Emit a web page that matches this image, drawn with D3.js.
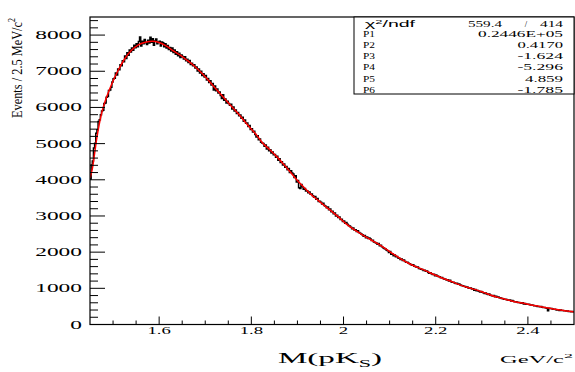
<!DOCTYPE html>
<html>
<head>
<meta charset="utf-8">
<script src="https://cdn.jsdelivr.net/npm/d3@7"></script>
<style>
html, body { margin: 0; padding: 0; background: #fff; }
svg { display: block; }
</style>
</head>
<body>
<svg id="chart"></svg>
<script>
// histogramme : 2.5 MeV par bin, a partir de 1.45 GeV
const binLow = 1.45;
const binWidth = 0.0025;
const counts = [
  4020, 4410, 4520, 4880, 5010, 5290, 5380, 5610, 5660, 5800,
  5900, 5920, 6110, 6120, 6280, 6300, 6470, 6480, 6560, 6700,
  6790, 6810, 6950, 6900, 7060, 7040, 7180, 7150, 7290, 7260,
  7420, 7350, 7510, 7440, 7590, 7530, 7640, 7580, 7720, 7650,
  7760, 7680, 7820, 7950, 7700, 7830, 7760, 7880, 7790, 7740,
  7860, 7780, 7940, 7800, 7900, 7720, 7840, 7890, 7760, 7810,
  7830, 7700, 7810, 7790, 7680, 7760, 7640, 7710, 7600, 7660,
  7560, 7640, 7520, 7590, 7470, 7540, 7430, 7500, 7380, 7450,
  7410, 7340, 7400, 7290, 7330, 7240, 7300, 7190, 7220, 7150,
  7180, 7090, 7120, 7010, 7060, 6950, 7000, 6880, 6930, 6840,
  6880, 6760, 6800, 6690, 6740, 6620, 6660, 6480, 6590, 6460,
  6510, 6400, 6430, 6330, 6250, 6350, 6200, 6230, 6120, 6170,
  6110, 6060, 6090, 5960, 6010, 5900, 5930, 5830, 5860, 5770,
  5790, 5700, 5730, 5620, 5650, 5560, 5570, 5470, 5500, 5390,
  5410, 5320, 5340, 5250, 5180, 5220, 5110, 5130, 5040, 5020,
  5000, 4930, 4960, 4850, 4900, 4800, 4830, 4740, 4770, 4690,
  4700, 4620, 4650, 4540, 4580, 4480, 4500, 4410, 4440, 4350,
  4370, 4280, 4310, 4200, 4250, 4190, 4160, 4060, 4110, 3940,
  3980, 3780, 3760, 3870, 3810, 3740, 3760, 3690, 3700, 3640,
  3660, 3600, 3610, 3560, 3520, 3540, 3460, 3480, 3400, 3410,
  3380, 3330, 3350, 3290, 3270, 3230, 3250, 3170, 3190, 3120,
  3130, 3060, 3080, 3000, 3020, 2960, 2970, 2900, 2910, 2850,
  2860, 2800, 2820, 2770, 2740, 2720, 2690, 2650, 2670, 2610,
  2620, 2570, 2590, 2540, 2520, 2500, 2480, 2440, 2460, 2400,
  2420, 2380, 2390, 2360, 2320, 2330, 2280, 2270, 2250, 2220,
  2240, 2180, 2190, 2150, 2120, 2100, 2090, 2050, 2040, 1990,
  2020, 1940, 1950, 1900, 1920, 1870, 1880, 1840, 1830, 1800,
  1810, 1770, 1780, 1740, 1720, 1720, 1690, 1680, 1660, 1640,
  1650, 1610, 1600, 1580, 1590, 1550, 1540, 1530, 1520, 1490,
  1500, 1470, 1480, 1440, 1420, 1430, 1400, 1380, 1390, 1350,
  1370, 1340, 1330, 1320, 1290, 1300, 1270, 1260, 1250, 1230,
  1240, 1200, 1220, 1180, 1170, 1170, 1150, 1130, 1140, 1110,
  1120, 1090, 1080, 1070, 1060, 1050, 1030, 1040, 1010, 1000,
  1010,  980,  990,  950,  970,  930,  940,  920,  900,  910,
   890,  880,  860,  870,  840,  830,  840,  810,  800,  790,
   800,  770,  780,  750,  760,  740,  730,  720,  710,  700,
   700,  690,  680,  670,  680,  650,  660,  640,  630,  630,
   620,  610,  610,  600,  590,  600,  570,  580,  560,  560,
   560,  550,  540,  540,  530,  520,  520,  510,  500,  500,
   490,  500,  480,  470,  470,  460,  450,  380,  450,  440,
   440,  430,  420,  420,  410,  400,  410,  390,  400,  390,
   390,  380,  380,  370,  370,  360,  360,  350,  360,  350
];

// courbe d'ajustement
const fitMass = [1.450, 1.455, 1.460, 1.465, 1.470, 1.475, 1.4825, 1.490, 1.500, 1.510,
  1.525, 1.540, 1.555, 1.570, 1.585, 1.600, 1.615, 1.630, 1.645, 1.660,
  1.675, 1.690, 1.705, 1.720, 1.735, 1.750, 1.765, 1.780, 1.795, 1.810,
  1.825, 1.840, 1.855, 1.870, 1.885, 1.900, 1.915, 1.930, 1.945, 1.960,
  1.975, 1.990, 2.005, 2.020, 2.035, 2.050, 2.065, 2.080, 2.095, 2.110,
  2.125, 2.140, 2.155, 2.170, 2.185, 2.200, 2.215, 2.230, 2.245, 2.260,
  2.275, 2.290, 2.305, 2.320, 2.335, 2.350, 2.365, 2.380, 2.395, 2.410,
  2.425, 2.440, 2.455, 2.470, 2.485, 2.500];
const fitValue = [4050, 4300, 4730, 5170, 5530, 5830, 6160, 6420, 6730, 7000,
  7340, 7580, 7730, 7800, 7830, 7795, 7700, 7570, 7450, 7310,
  7160, 6980, 6780, 6560, 6345, 6130, 5920, 5700, 5470, 5260,
  5010, 4830, 4640, 4430, 4210, 3980, 3780, 3590, 3430, 3270,
  3120, 2960, 2790, 2650, 2525, 2410, 2300, 2190, 2060, 1930,
  1810, 1700, 1610, 1530, 1445, 1360, 1280, 1210, 1130, 1060,
  1000, 950, 880, 810, 750, 700, 650, 610, 575, 535,
  500, 460, 430, 400, 375, 350];

const xTicks = [1.6, 1.8, 2, 2.2, 2.4];
const yTicks = [0, 1000, 2000, 3000, 4000, 5000, 6000, 7000, 8000];

const statNames = ['P1', 'P2', 'P3', 'P4', 'P5', 'P6'];
const statValues = ['0.2446E+05', '0.4170', '-1.624', '-5.296', '4.859', '-1.785'];
const chi2 = '559.4';
const ndf = '414';

const width = 575;
const height = 372;
const frameL = 90, frameR = 574, frameT = 17, frameB = 324.5;

const svg = d3.select('#chart')
    .attr('width', width)
    .attr('height', height);

const x = d3.scaleLinear().domain([1.45, 2.5]).range([frameL, frameR]);
const y = d3.scaleLinear().domain([0, 8500]).range([frameB, frameT]);

const serif = '"Liberation Serif", "Times New Roman", serif';

svg.append('clipPath').attr('id', 'frame')
  .append('rect')
    .attr('x', frameL).attr('y', frameT)
    .attr('width', frameR - frameL).attr('height', frameB - frameT);

// histogramme en escalier
const steps = counts.map((v, i) => ({ m: binLow + i * binWidth, v: v }));
steps.push({ m: binLow + counts.length * binWidth, v: counts[counts.length - 1] });

svg.append('path')
    .datum(steps)
    .attr('clip-path', 'url(#frame)')
    .attr('fill', 'none')
    .attr('stroke', '#000')
    .attr('stroke-width', 1.5)
    .attr('d', d3.line().x(d => x(d.m)).y(d => y(d.v)).curve(d3.curveStepAfter));

// ajustement
svg.append('path')
    .datum(fitMass.map((m, i) => [m, fitValue[i]]))
    .attr('clip-path', 'url(#frame)')
    .attr('fill', 'none')
    .attr('stroke', '#ff0000')
    .attr('stroke-width', 1.5)
    .attr('d', d3.line().x(d => x(d[0])).y(d => y(d[1])).curve(d3.curveMonotoneX));

// graduations
const yMinor = d3.range(0, 8500, 200);
svg.append('g').selectAll('line')
  .data(yMinor)
  .enter().append('line')
    .attr('x1', frameL)
    .attr('x2', d => frameL + (d % 1000 === 0 ? 15 : 8))
    .attr('y1', d => y(d)).attr('y2', d => y(d))
    .attr('stroke', '#000').attr('stroke-width', 1);

const xMinor = d3.range(1, 21);
svg.append('g').selectAll('line')
  .data(xMinor)
  .enter().append('line')
    .attr('x1', i => x(1.45 + i * 0.05)).attr('x2', i => x(1.45 + i * 0.05))
    .attr('y1', frameB)
    .attr('y2', i => frameB - ((i - 3) % 4 === 0 ? 8 : 4))
    .attr('stroke', '#000').attr('stroke-width', 1);

// cadre
svg.append('rect')
    .attr('x', frameL).attr('y', frameT)
    .attr('width', frameR - frameL).attr('height', frameB - frameT)
    .attr('fill', 'none').attr('stroke', '#000').attr('stroke-width', 1.2);

// etiquettes des axes
svg.append('g').selectAll('text')
  .data(yTicks)
  .enter().append('text')
    .attr('transform', d => `translate(82,${y(d) + 4}) scale(1.95,1)`)
    .attr('text-anchor', 'end')
    .attr('font-family', serif)
    .attr('font-size', 12)
    .text(d => d);

svg.append('g').selectAll('text')
  .data(xTicks)
  .enter().append('text')
    .attr('transform', d => `translate(${x(d)},334) scale(1.7,1)`)
    .attr('text-anchor', 'middle')
    .attr('font-family', serif)
    .attr('font-size', 11)
    .text(d => d);

// titres
const xt = svg.append('text')
    .attr('x', 278).attr('y', 363)
    .attr('font-family', serif).attr('font-size', 15)
    .attr('textLength', 104).attr('lengthAdjust', 'spacingAndGlyphs');
xt.append('tspan').text('M(pK');
xt.append('tspan').attr('font-size', 10).attr('dy', 4).text('S');
xt.append('tspan').attr('dy', -4).text(')');

const unit = svg.append('text')
    .attr('x', 500).attr('y', 363)
    .attr('font-family', serif).attr('font-size', 9.5)
    .attr('textLength', 73).attr('lengthAdjust', 'spacingAndGlyphs');
unit.append('tspan').text('GeV/c');
unit.append('tspan').attr('font-size', 7).attr('dy', -5).text('2');

const yt = svg.append('text')
    .attr('transform', 'translate(22,118) rotate(-90)')
    .attr('font-family', serif).attr('font-size', 15.5)
    .attr('textLength', 100).attr('lengthAdjust', 'spacingAndGlyphs');
yt.append('tspan').text('Events / 2.5 MeV/c');
yt.append('tspan').attr('font-size', 10).attr('dy', -7).text('2');

// boite de statistiques
const stats = svg.append('g');
stats.append('rect')
    .attr('x', 354).attr('y', frameT)
    .attr('width', frameR - 354).attr('height', 77)
    .attr('fill', '#fff').attr('stroke', '#000').attr('stroke-width', 1);

const chiLabel = stats.append('text')
    .attr('x', 365).attr('y', 27)
    .attr('font-family', '"Liberation Sans", Arial, sans-serif').attr('font-size', 9)
    .attr('textLength', 50).attr('lengthAdjust', 'spacingAndGlyphs');
chiLabel.append('tspan').text('\u03c7');
chiLabel.append('tspan').attr('font-size', 6).attr('dy', -3).text('2');
chiLabel.append('tspan').attr('dy', 3).text('/ndf');

stats.append('text')
    .attr('x', 502).attr('y', 27).attr('text-anchor', 'end')
    .attr('font-family', serif).attr('font-size', 8.5)
    .attr('textLength', 34).attr('lengthAdjust', 'spacingAndGlyphs')
    .text(chi2);
stats.append('text')
    .attr('x', 526).attr('y', 27).attr('text-anchor', 'middle')
    .attr('font-family', serif).attr('font-size', 8.5)
    .text('/');
stats.append('text')
    .attr('x', 563).attr('y', 27).attr('text-anchor', 'end')
    .attr('font-family', serif).attr('font-size', 8.5)
    .attr('textLength', 23).attr('lengthAdjust', 'spacingAndGlyphs')
    .text(ndf);

const rowY = [36.5, 47.5, 58.5, 70, 81.5, 92.5];
stats.selectAll('text.name')
  .data(statNames)
  .enter().append('text')
    .attr('class', 'name')
    .attr('x', 363).attr('y', (d, i) => rowY[i])
    .attr('font-family', serif).attr('font-size', 8.5)
    .attr('textLength', 12).attr('lengthAdjust', 'spacingAndGlyphs')
    .text(d => d);

stats.selectAll('text.val')
  .data(statValues)
  .enter().append('text')
    .attr('class', 'val')
    .attr('x', 563).attr('y', (d, i) => rowY[i])
    .attr('text-anchor', 'end')
    .attr('font-family', serif).attr('font-size', 8.5)
    .attr('textLength', d => d.length * 7.6 + (d.indexOf('E') >= 0 ? 9 : 0))
    .attr('lengthAdjust', 'spacingAndGlyphs')
    .text(d => d);
</script>
</body>
</html>
